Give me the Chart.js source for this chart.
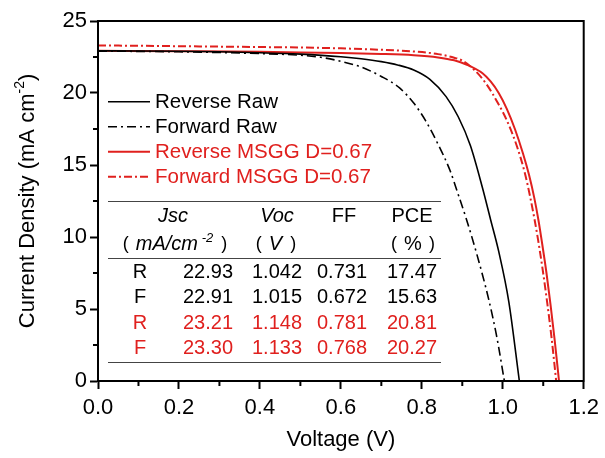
<!DOCTYPE html>
<html><head><meta charset="utf-8">
<script src="https://cdn.jsdelivr.net/npm/chart.js@4"></script>
<style>html,body{margin:0;padding:0;background:#fff}#wrap{width:605px;height:458px;position:relative}</style>
</head><body><div id="wrap"><canvas id="c" width="605" height="458"></canvas></div>
<script>
// ---- data ----
const seriesNames = ['Reverse Raw', 'Forward Raw', 'Reverse MSGG D=0.67', 'Forward MSGG D=0.67'];

const revRawV = [0, 0.1, 0.2, 0.3, 0.4, 0.5, 0.6, 0.65, 0.7, 0.74, 0.78, 0.82, 0.86, 0.89, 0.92, 0.95, 0.97, 0.99, 1.015, 1.041];
const revRawJ = [22.93, 22.92, 22.90, 22.86, 22.80, 22.70, 22.52, 22.38, 22.18, 21.95, 21.6, 20.95, 19.75, 18.35, 16.35, 13.4, 11.2, 9.0, 5.5, 0];

const fwdRawV = [0, 0.1, 0.2, 0.3, 0.4, 0.5, 0.55, 0.6, 0.65, 0.7, 0.745, 0.78, 0.81, 0.84, 0.87, 0.89, 0.91, 0.935, 0.965, 0.985, 1.004];
const fwdRawJ = [22.91, 22.89, 22.86, 22.81, 22.74, 22.62, 22.48, 22.2, 21.8, 21.15, 20.35, 19.3, 18.05, 16.45, 14.6, 12.95, 11.25, 8.9, 5.7, 3.1, 0];

const revMsggV = [0, 0.2, 0.4, 0.5, 0.6, 0.7, 0.78, 0.84, 0.88, 0.91, 0.95, 0.97, 0.99, 1.01, 1.03, 1.05, 1.065, 1.078, 1.088, 1.097, 1.108, 1.118, 1.128, 1.139];
const revMsggJ = [22.93, 22.90, 22.86, 22.82, 22.77, 22.71, 22.62, 22.47, 22.27, 21.98, 21.37, 20.8, 20.0, 18.9, 17.5, 15.8, 14.3, 12.7, 11.2, 9.6, 7.5, 5.3, 2.9, 0];

const fwdMsggV = [0, 0.1, 0.2, 0.3, 0.4, 0.5, 0.6, 0.7, 0.78, 0.84, 0.88, 0.9, 0.93, 0.96, 0.99, 1.01, 1.035, 1.055, 1.068, 1.078, 1.087, 1.098, 1.11, 1.121, 1.132];
const fwdMsggJ = [23.30, 23.28, 23.25, 23.22, 23.19, 23.16, 23.10, 23.00, 22.88, 22.70, 22.45, 22.25, 21.6, 20.6, 19.2, 18.1, 16.3, 14.4, 12.75, 11.3, 9.85, 7.85, 5.4, 2.9, 0];

const xMinorTicks = [0.1, 0.3, 0.5, 0.7, 0.9, 1.1];
const yMinorTicks = [2.5, 7.5, 12.5, 17.5, 22.5];

const tableRowLabels = ['R', 'F', 'R', 'F'];
const tableJsc = ['22.93', '22.91', '23.21', '23.30'];
const tableVoc = ['1.042', '1.015', '1.148', '1.133'];
const tableFF  = ['0.731', '0.672', '0.781', '0.768'];
const tablePCE = ['17.47', '15.63', '20.81', '20.27'];

// ---- styles ----
const BLACK = '#000000';
const RED = '#e0201e';
const FONT = '"Liberation Sans", Arial, sans-serif';
const seriesColors = [BLACK, BLACK, RED, RED];
const seriesDash = [[], [9, 4, 2, 4], [], [8, 3, 2, 3]];
const seriesWidth = [1.6, 1.6, 2, 2];
const rowColors = [BLACK, BLACK, RED, RED];

const pts = (V, J) => V.map((v, i) => ({x: v, y: J[i]}));
const allSeries = [[revRawV, revRawJ], [fwdRawV, fwdRawJ], [revMsggV, revMsggJ], [fwdMsggV, fwdMsggJ]];

const datasets = allSeries.map((s, i) => ({
  label: seriesNames[i],
  data: pts(s[0], s[1]),
  borderColor: seriesColors[i],
  borderWidth: seriesWidth[i],
  borderDash: seriesDash[i],
  pointRadius: 0,
  fill: false,
  cubicInterpolationMode: 'monotone'
}));

function drawRuns(ctx, runs, cx, cy, color) {
  // runs: [{t, f, dy, gap}]
  let total = 0;
  runs.forEach(r => {
    if (r.t) { ctx.font = r.f; r.w = ctx.measureText(r.t).width; } else { r.w = r.gap; }
    total += r.w;
  });
  let x = cx - total / 2;
  ctx.fillStyle = color;
  ctx.textAlign = 'left';
  ctx.textBaseline = 'middle';
  runs.forEach(r => {
    if (r.t) { ctx.font = r.f; ctx.fillText(r.t, x, cy + (r.dy || 0)); }
    x += r.w;
  });
}

const decorPlugin = {
  id: 'decor',
  afterDraw(chart) {
    const ctx = chart.ctx;
    const a = chart.chartArea;
    const xs = chart.scales.x, ys = chart.scales.y;
    ctx.save();
    // frame
    ctx.strokeStyle = BLACK; ctx.lineWidth = 2; ctx.setLineDash([]);
    ctx.strokeRect(a.left, a.top, a.right - a.left, a.bottom - a.top);
    // minor ticks
    xMinorTicks.forEach(v => { const p = xs.getPixelForValue(v); ctx.beginPath(); ctx.moveTo(p, a.bottom); ctx.lineTo(p, a.bottom + 5); ctx.stroke(); });
    yMinorTicks.forEach(v => { const p = ys.getPixelForValue(v); ctx.beginPath(); ctx.moveTo(a.left, p); ctx.lineTo(a.left - 5, p); ctx.stroke(); });

    // y title (rotated, with superscript)
    ctx.save();
    ctx.translate(28, (a.top + a.bottom) / 2);
    ctx.rotate(-Math.PI / 2);
    drawRuns(ctx, [
      {t: 'Current Density (mA cm', f: '22px ' + FONT},
      {t: '-2', f: '14px ' + FONT, dy: -8},
      {t: ')', f: '22px ' + FONT}
    ], 0, 0, BLACK);
    ctx.restore();

    // legend
    const legY = [101.7, 126.7, 151.7, 176.7];
    seriesNames.forEach((n, i) => {
      ctx.strokeStyle = seriesColors[i];
      ctx.lineWidth = seriesWidth[i];
      ctx.setLineDash(seriesDash[i]);
      ctx.beginPath(); ctx.moveTo(108, legY[i]); ctx.lineTo(150, legY[i]); ctx.stroke();
      ctx.setLineDash([]);
      ctx.fillStyle = seriesColors[i];
      ctx.font = '20.5px ' + FONT;
      ctx.textAlign = 'left'; ctx.textBaseline = 'middle';
      ctx.fillText(n, 155, legY[i] + 1);
    });

    // table
    ctx.strokeStyle = '#444'; ctx.lineWidth = 1; ctx.setLineDash([]);
    [201.5, 258.5, 362.5].forEach(y => { ctx.beginPath(); ctx.moveTo(108, y); ctx.lineTo(441, y); ctx.stroke(); });
    const fz = '20px ' + FONT, fi = 'italic 20px ' + FONT, fp = '300 18px ' + FONT;
    drawRuns(ctx, [{t: 'Jsc', f: fi}], 173, 216, BLACK);
    drawRuns(ctx, [{t: 'Voc', f: fi}], 277, 216, BLACK);
    drawRuns(ctx, [{t: 'FF', f: fz}], 344, 216, BLACK);
    drawRuns(ctx, [{t: 'PCE', f: fz}], 412, 216, BLACK);
    drawRuns(ctx, [{t: '(', f: fp}, {gap: 7}, {t: 'mA/cm', f: fi}, {t: ' -2', f: 'italic 13px ' + FONT, dy: -6}, {gap: 8}, {t: ')', f: fp}], 175, 244, BLACK);
    drawRuns(ctx, [{t: '(', f: fp}, {gap: 7}, {t: 'V', f: fi}, {gap: 8}, {t: ')', f: fp}], 276, 244, BLACK);
    drawRuns(ctx, [{t: '(', f: fp}, {gap: 7}, {t: '%', f: fz}, {gap: 7}, {t: ')', f: fp}], 413, 244, BLACK);
    const rowY = [272, 297, 323, 348];
    rowY.forEach((y, i) => {
      const c = rowColors[i];
      ctx.fillStyle = c; ctx.font = fz; ctx.textBaseline = 'middle';
      ctx.textAlign = 'center'; ctx.fillText(tableRowLabels[i], 140, y);
      ctx.textAlign = 'right'; ctx.fillText(tableJsc[i], 233, y);
      ctx.textAlign = 'center'; ctx.fillText(tableVoc[i], 277, y);
      ctx.fillText(tableFF[i], 342, y);
      ctx.fillText(tablePCE[i], 412, y);
    });
    ctx.restore();
  }
};

const tickFont = {family: FONT, size: 22};
new Chart(document.getElementById('c'), {
  type: 'line',
  data: {datasets},
  options: {
    responsive: false, animation: false, devicePixelRatio: 1,
    layout: {padding: {left: 0, top: 21, right: 17, bottom: 0}},
    plugins: {legend: {display: false}, tooltip: {enabled: false}},
    scales: {
      x: {
        type: 'linear', min: 0, max: 1.2,
        afterFit(s) { s.height = 77; },
        ticks: {stepSize: 0.2, font: tickFont, color: BLACK, padding: 6, maxRotation: 0, autoSkip: false,
                callback: v => Number(v).toFixed(1)},
        grid: {drawOnChartArea: false, drawTicks: true, tickLength: 8, tickWidth: 2, tickColor: BLACK},
        border: {display: true, color: BLACK, width: 2},
        title: {display: true, text: 'Voltage (V)', font: tickFont, color: BLACK, padding: {top: 0, bottom: 5}}
      },
      y: {
        type: 'linear', min: 0, max: 25,
        afterFit(s) { s.width = 98; },
        ticks: {stepSize: 5, font: tickFont, color: BLACK, padding: 3},
        grid: {drawOnChartArea: false, drawTicks: true, tickLength: 8, tickWidth: 2, tickColor: BLACK},
        border: {display: true, color: BLACK, width: 2}
      }
    }
  },
  plugins: [decorPlugin]
});
</script>
</body></html>
